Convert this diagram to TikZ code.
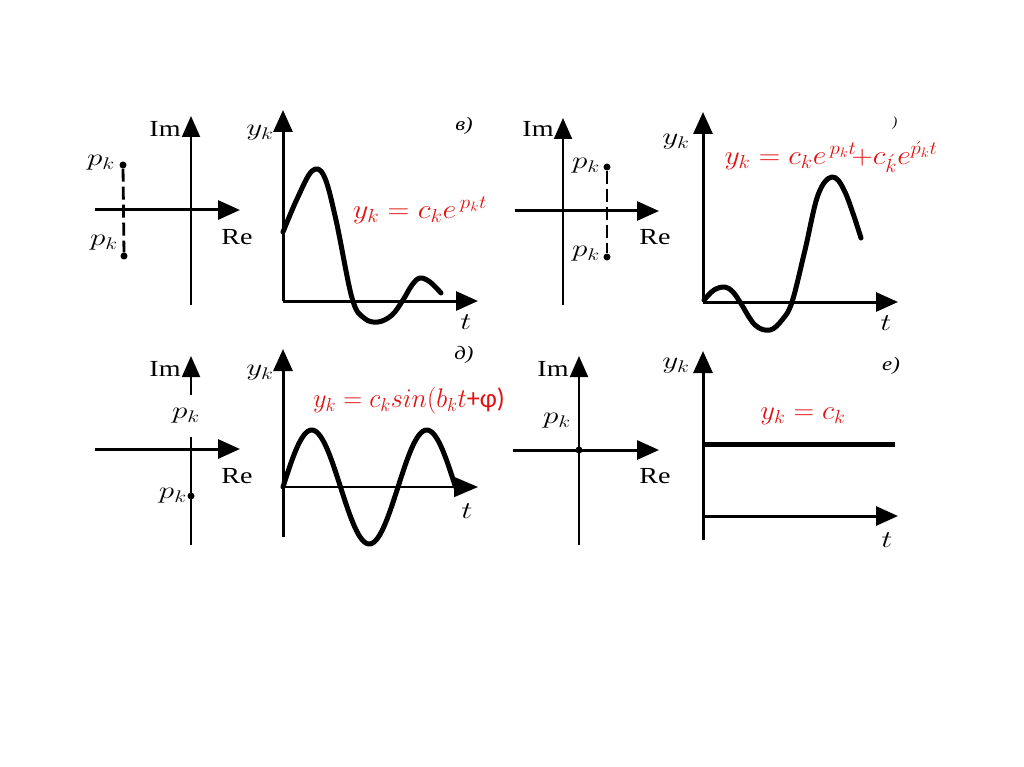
\RequirePackage{fix-cm}
\documentclass[tikz,border=0pt]{standalone}
\usepackage{graphicx}
\usepackage{fontspec}
\setmainfont{Liberation Serif}
\newfontfamily\calib{Carlito}
\usetikzlibrary{arrows.meta}
\definecolor{fred}{RGB}{226,18,18}
\newcommand\wl[1]{\scalebox{1.22}[1]{#1}}
\newcommand\wi[1]{\scalebox{1.2}[1]{#1}}
\newcommand\wm[1]{\scalebox{1.3}[1]{#1}}
\begin{document}
\begin{tikzpicture}[x=1pt,y=-1pt,
  ax/.style={line width=3pt,-{Triangle[length=22pt,width=19pt]}},
  vax/.style={line width=2pt,-{Triangle[length=21pt,width=18pt]}},
  crv/.style={line width=5pt,line cap=round,line join=round},
  lbl/.style={font=\fontsize{23}{27}\selectfont, inner sep=0pt},
  ilbl/.style={font=\fontsize{19}{22}\selectfont\itshape, inner sep=0pt},
  mlbl/.style={font=\fontsize{24}{28}\selectfont, inner sep=0pt},
  frm/.style={font=\fontsize{27}{32}\selectfont, text=fred, inner sep=0pt},
  dotp/.style={circle, fill=black, inner sep=0pt, minimum size=7pt},
  dsh/.style={line width=2.8pt, dash pattern=on 13pt off 5pt},
]
\fill[white] (0,0) rectangle (1024,767);
\useasboundingbox (0,0) rectangle (1024,767);

% ---------- panel 1: complex plane ----------
\coordinate (a1l) at (95,210); \coordinate (a1r) at (240,210);
\coordinate (a1b) at (191,305); \coordinate (a1t) at (191,116);
\draw[vax] (a1b) -- (a1t);
\draw[ax] (a1l) -- (a1r);
\node[dotp] (p1a) at (123,165) {};
\node[dotp] (p1b) at (124,256) {};
\draw[dsh] (p1a) -- (p1b);
\node[lbl] (im1) at (165,129) {\wl{Im}};
\node[lbl] (re1) at (237,237) {\wl{Re}};
\node[mlbl] (pk1a) at (101,163) {\wm{$p_k$}};
\node[mlbl] (pk1b) at (104,243) {\wm{$p_k$}};

% ---------- graph 1 ----------
\coordinate (g1o) at (283,301); \coordinate (g1t) at (283,110); \coordinate (g1r) at (478,301);
\draw[ax] (g1o) -- (g1t);
\draw[ax] (g1o) -- (g1r);
\node[mlbl] (yk1) at (260,133) {\wm{$y_k$}};
\node[ilbl] (lb1) at (464,126) {\wi{в)}};
\node[mlbl] (t1) at (466,322) {\wm{$t$}};
\draw[crv] plot[smooth, tension=0.6] coordinates {(283,232) (297,199) (312,171) (324,176) (336,220) (352,298) (364,318) (378,322) (392,315) (403,300) (412,285) (420,278) (430,282) (441,293)};
\node[frm] (f1) at (420,210) {\scalebox{1.12}[1]{$y_k = c_k e^{\,p_k t}$}};

% ---------- panel 2: complex plane ----------
\coordinate (a2l) at (515,211); \coordinate (a2r) at (659,211);
\coordinate (a2b) at (563,305); \coordinate (a2t) at (563,118);
\draw[vax] (a2b) -- (a2t);
\draw[ax] (a2l) -- (a2r);
\node[dotp] (p2a) at (607,167) {};
\node[dotp] (p2b) at (607,257) {};
\draw[dsh] (p2a) -- (p2b);
\node[lbl] (im2) at (538,129) {\wl{Im}};
\node[lbl] (re2) at (655,237) {\wl{Re}};
\node[mlbl] (pk2a) at (586,166) {\wm{$p_k$}};
\node[mlbl] (pk2b) at (586,254) {\wm{$p_k$}};

% ---------- graph 2 ----------
\coordinate (g2o) at (703,302); \coordinate (g2t) at (703,112); \coordinate (g2r) at (898,302);
\draw[ax] (g2o) -- (g2t);
\draw[ax] (g2o) -- (g2r);
\node[mlbl] (yk2) at (676,142) {\wm{$y_k$}};
\node[font=\fontsize{14}{16}\selectfont\itshape, inner sep=0pt] (lb2) at (895,123) {)};
\node[mlbl] (t2) at (886,323) {\wm{$t$}};
\draw[crv] plot[smooth, tension=0.6] coordinates {(704,300) (714,290) (725,287) (733,292) (740,302) (755,325) (770,330) (782,320) (792,302) (805,250) (818,195) (832,177) (845,192) (861,238)};
\node[frm] (f2) at (831,157) {\scalebox{1.1}[1]{$y_k = c_k e^{\,p_k t}\!{+}c_{\acute{k}}e^{\acute{p}_k t}$}};

% ---------- panel 3: complex plane ----------
\coordinate (a3l) at (95,449); \coordinate (a3r) at (240,449);
\coordinate (a3b) at (191,545); \coordinate (a3t) at (191,356);
\draw[vax] (a3b) -- (a3t);
\draw[ax] (a3l) -- (a3r);
\node[mlbl, fill=white, inner sep=2pt, minimum height=42pt] (pk3a) at (186,416) {\wm{$p_k$}};
\node[dotp] (p3) at (191,496) {};
\node[mlbl, anchor=east] (pk3b) at (187,496) {\wm{$p_k$}};
\node[lbl] (im3) at (165,369) {\wl{Im}};
\node[lbl] (re3) at (237,476) {\wl{Re}};

% ---------- graph 3 ----------
\coordinate (g3b) at (283,537); \coordinate (g3t) at (283,349);
\coordinate (g3o) at (283,487); \coordinate (g3r) at (478,487);
\draw[ax] (g3b) -- (g3t);
\draw[line width=1.6pt,-{Triangle[length=24pt,width=20pt]}] (g3o) -- (g3r);
\node[mlbl] (yk3) at (260,373) {\wm{$y_k$}};
\node[ilbl] (lb3) at (464,355) {\wi{д)}};
\node[mlbl] (t3) at (467,511) {\wm{$t$}};
\draw[crv] plot[domain=0:172.5, samples=90, smooth] ({283+\x},{487-57*sin(\x*3.1304)});
\node[frm] (f3) at (409,401) {\scalebox{0.97}[1]{$y_k = c_k sin(b_k t${\calib +φ)}}};

% ---------- panel 4: complex plane ----------
\coordinate (a4l) at (513,450); \coordinate (a4r) at (659,450);
\coordinate (a4b) at (579,545); \coordinate (a4t) at (579,356);
\draw[vax] (a4b) -- (a4t);
\draw[ax] (a4l) -- (a4r);
\node[dotp] (p4) at (579,450) {};
\node[mlbl] (pk4) at (557,421) {\wm{$p_k$}};
\node[lbl] (im4) at (553,369) {\wl{Im}};
\node[lbl] (re4) at (655,476) {\wl{Re}};

% ---------- graph 4 ----------
\coordinate (g4b) at (703,540); \coordinate (g4t) at (703,351);
\coordinate (g4o) at (703,516); \coordinate (g4r) at (898,516);
\coordinate (c4l) at (703,444); \coordinate (c4r) at (895,444);
\draw[ax] (g4b) -- (g4t);
\draw[ax] (g4o) -- (g4r);
\draw[line width=5pt] (c4l) -- (c4r);
\node[mlbl] (yk4) at (676,366) {\wm{$y_k$}};
\node[ilbl] (lb4) at (891,366) {\wi{е)}};
\node[mlbl] (t4) at (887,540) {\wm{$t$}};
\node[frm] (f4) at (803,416) {\scalebox{1.06}[1]{$y_k = c_k$}};
\end{tikzpicture}
\end{document}
